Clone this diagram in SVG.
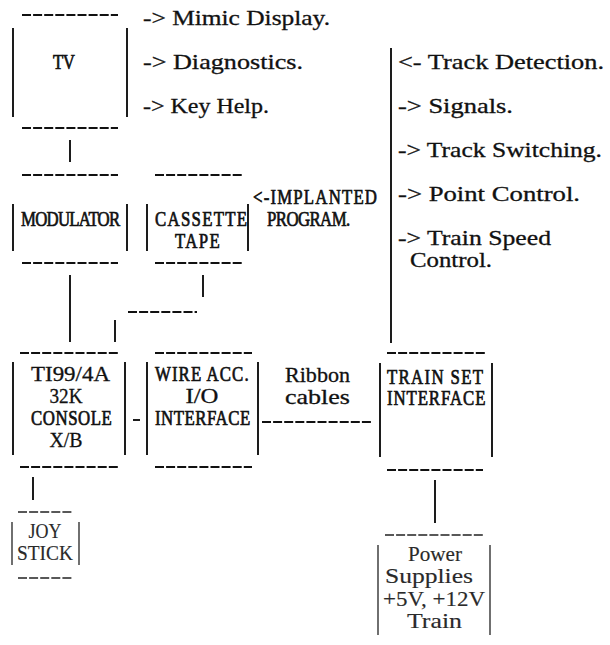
<svg xmlns="http://www.w3.org/2000/svg" width="610" height="645" viewBox="0 0 610 645">
<style>
text{font-family:"Liberation Serif","Times New Roman",serif;font-size:21px;fill:#111;stroke:#111;stroke-width:0.7}
text.w{stroke-width:0.3}
text.lt{fill:#2a2a2a;stroke:#2a2a2a;stroke-width:0.15}
.dash{stroke:#111;stroke-width:1.8;stroke-dasharray:9 2.1;fill:none}
.bar{stroke:#111;stroke-width:1.9;fill:none}
.lt-l{stroke:#222;stroke-width:1.3;fill:none}
.lt-d{stroke:#222;stroke-width:1.3;stroke-dasharray:9 2.1;fill:none}
</style>
<rect width="610" height="645" fill="#fff"/>

<g id="tv">
<line class="dash" x1="22" y1="15" x2="118" y2="15"/>
<line class="dash" x1="22" y1="128" x2="118" y2="128"/>
<line class="bar" x1="13" y1="28" x2="13" y2="117"/>
<line class="bar" x1="127" y1="28" x2="127" y2="117"/>
<text transform="matrix(.8 0 0 1 53 69)" textLength="27.5" lengthAdjust="spacing">TV</text>
</g>

<g id="tv-outputs">
<text class="w" x="143" y="25" textLength="187" lengthAdjust="spacingAndGlyphs">-&gt; Mimic Display.</text>
<text class="w" x="143" y="69" textLength="160" lengthAdjust="spacingAndGlyphs">-&gt; Diagnostics.</text>
<text class="w" x="143" y="113" textLength="126" lengthAdjust="spacingAndGlyphs">-&gt; Key Help.</text>
</g>

<g id="modulator">
<line class="dash" x1="22" y1="175" x2="118" y2="175"/>
<line class="dash" x1="22" y1="263" x2="118" y2="263"/>
<line class="bar" x1="13" y1="204" x2="13" y2="251"/>
<line class="bar" x1="127" y1="204" x2="127" y2="251"/>
<text transform="matrix(.8 0 0 1 21 226)" textLength="124" lengthAdjust="spacing">MODULATOR</text>
</g>

<g id="cassette">
<line class="dash" x1="155" y1="175" x2="242" y2="175"/>
<line class="dash" x1="155" y1="263" x2="242" y2="263"/>
<line class="bar" x1="147" y1="204" x2="147" y2="251"/>
<line class="bar" x1="248" y1="204" x2="248" y2="251"/>
<text transform="matrix(.8 0 0 1 155 226)" textLength="115" lengthAdjust="spacing">CASSETTE</text>
<text transform="matrix(.8 0 0 1 175 248)" textLength="56" lengthAdjust="spacing">TAPE</text>
</g>

<g id="implanted">
<text transform="matrix(.8 0 0 1 253 204)" textLength="155" lengthAdjust="spacing">&lt;-IMPLANTED</text>
<text transform="matrix(.8 0 0 1 267 226)" textLength="104" lengthAdjust="spacing">PROGRAM.</text>
</g>

<g id="train-outputs">
<text class="w" x="398" y="69" textLength="206" lengthAdjust="spacingAndGlyphs">&lt;- Track Detection.</text>
<text class="w" x="398" y="113" textLength="115" lengthAdjust="spacingAndGlyphs">-&gt; Signals.</text>
<text class="w" x="398" y="157" textLength="204" lengthAdjust="spacingAndGlyphs">-&gt; Track Switching.</text>
<text class="w" x="398" y="201" textLength="182" lengthAdjust="spacingAndGlyphs">-&gt; Point Control.</text>
<text class="w" x="398" y="245" textLength="153" lengthAdjust="spacingAndGlyphs">-&gt; Train Speed</text>
<text class="w" x="410" y="267" textLength="82" lengthAdjust="spacingAndGlyphs">Control.</text>
</g>

<g id="console">
<line class="dash" x1="20" y1="353" x2="118" y2="353"/>
<line class="dash" x1="20" y1="467" x2="118" y2="467"/>
<line class="bar" x1="13" y1="362" x2="13" y2="455"/>
<line class="bar" x1="125" y1="362" x2="125" y2="455"/>
<text class="w" x="31" y="381" textLength="79" lengthAdjust="spacingAndGlyphs">TI99/4A</text>
<text class="w" x="49.5" y="403" textLength="33" lengthAdjust="spacingAndGlyphs">32K</text>
<text transform="matrix(.8 0 0 1 31 425)" textLength="101" lengthAdjust="spacing">CONSOLE</text>
<text class="w" x="49.5" y="447" textLength="33" lengthAdjust="spacingAndGlyphs">X/B</text>
</g>

<g id="wire-acc">
<line class="dash" x1="155" y1="353" x2="252" y2="353"/>
<line class="dash" x1="155" y1="467" x2="252" y2="467"/>
<line class="bar" x1="147" y1="362" x2="147" y2="455"/>
<line class="bar" x1="258" y1="362" x2="258" y2="455"/>
<text transform="matrix(.8 0 0 1 155 381)" textLength="117" lengthAdjust="spacing">WIRE ACC.</text>
<text class="w" x="185.5" y="403" textLength="33" lengthAdjust="spacingAndGlyphs">I/O</text>
<text transform="matrix(.8 0 0 1 155 425)" textLength="119" lengthAdjust="spacing">INTERFACE</text>
</g>

<g id="train-set">
<line class="dash" x1="387" y1="353" x2="485" y2="353"/>
<line class="dash" x1="387" y1="470" x2="483" y2="470"/>
<line class="bar" x1="380" y1="363" x2="380" y2="457"/>
<line class="bar" x1="492" y1="363" x2="492" y2="457"/>
<text transform="matrix(.8 0 0 1 387 384)" textLength="120" lengthAdjust="spacing">TRAIN SET</text>
<text transform="matrix(.8 0 0 1 387 405)" textLength="123" lengthAdjust="spacing">INTERFACE</text>
</g>

<g id="joystick">
<line class="lt-d" x1="18" y1="512" x2="73" y2="512"/>
<line class="lt-d" x1="18" y1="578" x2="72" y2="578"/>
<line class="lt-l" x1="12" y1="522" x2="12" y2="565"/>
<line class="lt-l" x1="79" y1="522" x2="79" y2="565"/>
<text class="lt" x="28.5" y="538" textLength="33" lengthAdjust="spacingAndGlyphs">JOY</text>
<text class="lt" x="17" y="560" textLength="56" lengthAdjust="spacingAndGlyphs">STICK</text>
</g>

<g id="power">
<line class="lt-d" x1="385" y1="535" x2="483" y2="535"/>
<line class="lt-l" x1="378" y1="545" x2="378" y2="635"/>
<line class="lt-l" x1="490" y1="545" x2="490" y2="635"/>
<text class="lt" x="408" y="561" textLength="54" lengthAdjust="spacingAndGlyphs">Power</text>
<text class="lt" x="385" y="583" textLength="88" lengthAdjust="spacingAndGlyphs">Supplies</text>
<text class="lt" x="383" y="606" textLength="102" lengthAdjust="spacingAndGlyphs">+5V, +12V</text>
<text class="lt" x="407" y="628" textLength="55" lengthAdjust="spacingAndGlyphs">Train</text>
</g>

<g id="ribbon-label">
<text class="w" x="285" y="382" textLength="65" lengthAdjust="spacingAndGlyphs">Ribbon</text>
<text class="w" x="285" y="404" textLength="65" lengthAdjust="spacingAndGlyphs">cables</text>
</g>

<g id="connectors">
<line class="bar" x1="70" y1="140" x2="70" y2="162"/>
<line class="bar" x1="70" y1="275" x2="70" y2="342"/>
<line class="bar" x1="203" y1="275" x2="203" y2="297"/>
<line class="dash" x1="128" y1="312" x2="197" y2="312"/>
<line class="bar" x1="115" y1="320" x2="115" y2="342"/>
<line class="bar" x1="133" y1="420" x2="140" y2="420"/>
<line class="dash" x1="262" y1="422" x2="373" y2="422"/>
<line class="bar" x1="391" y1="48" x2="391" y2="343"/>
<line class="bar" x1="33" y1="477" x2="33" y2="500"/>
<line class="bar" x1="435" y1="480" x2="435" y2="523"/>
</g>
</svg>
